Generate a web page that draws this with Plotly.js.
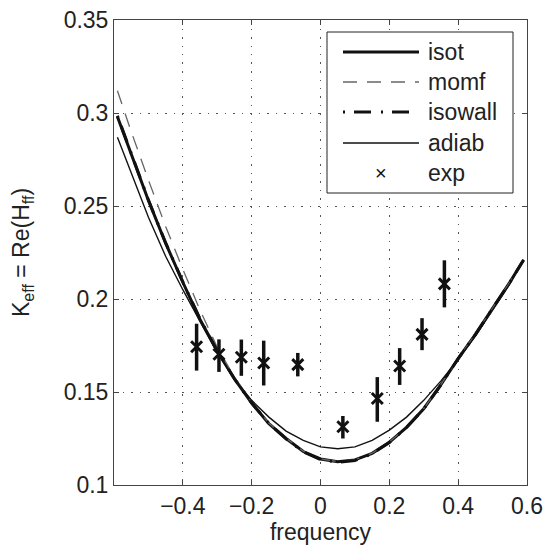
<!DOCTYPE html>
<html>
<head>
<meta charset="utf-8">
<script src="https://cdn.plot.ly/plotly-3.0.1.min.js"></script>
<style>html,body{margin:0;padding:0;background:#fff;}#chart{width:544px;height:553px;}</style>
</head>
<body>
<div id="chart"></div>
<script>
// Model curves
const freq = [-0.59,-0.55,-0.50,-0.45,-0.40,-0.35,-0.30,-0.25,-0.20,-0.15,-0.10,-0.05,0.00,0.05,0.10,0.15,0.20,0.25,0.30,0.35,0.40,0.45,0.50,0.55,0.59];
const isot    = [0.298,0.278,0.253,0.230,0.209,0.189,0.172,0.157,0.144,0.133,0.125,0.118,0.1140,0.1125,0.1135,0.117,0.123,0.131,0.141,0.154,0.168,0.181,0.195,0.209,0.221];
const momf    = [0.312,0.290,0.264,0.239,0.216,0.194,0.174,0.158,0.1445,0.1333,0.1252,0.1182,0.1140,0.1126,0.1136,0.1171,0.1231,0.1311,0.1411,0.1541,0.1680,0.1810,0.1950,0.2090,0.2212];
const isowall = [0.2985,0.2783,0.2532,0.2302,0.2092,0.1893,0.1722,0.1571,0.1441,0.1331,0.1248,0.1178,0.1137,0.1122,0.1132,0.1168,0.1228,0.1309,0.1409,0.1539,0.1679,0.1809,0.1949,0.2089,0.2210];
const adiab   = [0.287,0.268,0.244,0.223,0.205,0.188,0.171,0.157,0.1455,0.1365,0.129,0.124,0.1205,0.1195,0.1205,0.124,0.1295,0.1365,0.1455,0.156,0.1675,0.180,0.194,0.208,0.221];
// Experimental points
const expFreq = [-0.36,-0.295,-0.23,-0.165,-0.066,0.065,0.165,0.23,0.295,0.36];
const expK    = [0.1743,0.1703,0.1687,0.1656,0.1647,0.1313,0.1465,0.1640,0.1810,0.2081];
const errHi   = [0.0124,0.0080,0.0095,0.0120,0.0063,0.0058,0.0115,0.0096,0.0087,0.0127];
const errLo   = [0.0128,0.0095,0.0100,0.0121,0.0063,0.0063,0.0125,0.0102,0.0085,0.0126];
const xTicks = [-0.4,-0.2,0,0.2,0.4,0.6];
const yTicks = [0.1,0.15,0.2,0.25,0.3,0.35];
const seriesNames = ['isot','momf','isowall','adiab','exp'];

const FONT = 'Liberation Sans, Arial, Helvetica, sans-serif';
const styles = {
  isot:    {color: '#111', width: 3},
  momf:    {color: '#666', width: 1.3, dash: '14px,10px'},
  isowall: {color: '#111', width: 3, dash: '2px,9px,17px,10px'},
  adiab:   {color: '#111', width: 1.4}
};
const traces = [
  {x: freq, y: isot, name: 'isot', mode: 'lines', line: styles.isot},
  {x: freq, y: momf, name: 'momf', mode: 'lines', line: styles.momf},
  {x: freq, y: isowall, name: 'isowall', mode: 'lines', line: styles.isowall},
  {x: freq, y: adiab, name: 'adiab', mode: 'lines', line: styles.adiab},
  {x: expFreq, y: expK, name: 'exp', mode: 'markers',
   marker: {symbol: 'x-thin', size: 11, color: '#111', line: {color: '#111', width: 3}},
   error_y: {type: 'data', symmetric: false, array: errHi, arrayminus: errLo, thickness: 3.5, width: 0, color: '#111'}}
];

// plot-area geometry helpers for the hand-drawn legend box
const M = {l: 114, r: 17, t: 20, b: 68};
const W = 544, H = 553;
const PW = W - M.l - M.r, PH = H - M.t - M.b;
const px = v => (v - M.l) / PW;
const py = v => (H - M.b - v) / PH;

const shapes = [
  {type: 'rect', xref: 'paper', yref: 'paper', x0: px(327), x1: px(513), y0: py(193), y1: py(32),
   line: {color: '#222', width: 1}, fillcolor: '#fff', layer: 'above'}
];
const annotations = [];
const rowY = [52, 82, 112, 143, 173];
seriesNames.forEach((nm, i) => {
  if (styles[nm]) {
    shapes.push({type: 'line', xref: 'paper', yref: 'paper', x0: px(343), x1: px(419), y0: py(rowY[i]), y1: py(rowY[i]),
      line: Object.assign({}, styles[nm]), layer: 'above'});
  } else {
    annotations.push({xref: 'paper', yref: 'paper', x: px(381), y: py(rowY[i]), text: '\u00d7', showarrow: false,
      xanchor: 'center', yanchor: 'middle', font: {family: FONT, size: 20, color: '#111'}});
  }
  annotations.push({xref: 'paper', yref: 'paper', x: px(426), y: py(rowY[i]), text: nm, showarrow: false,
    xanchor: 'left', yanchor: 'middle', font: {family: FONT, size: 23, color: '#222'}});
});

const axisCommon = {
  showline: true, mirror: 'ticks', linecolor: '#444', linewidth: 1,
  ticks: 'inside', ticklen: 5, tickcolor: '#444', tickwidth: 1,
  showgrid: true, gridcolor: '#555', gridwidth: 1, griddash: '1.5px,7px',
  zeroline: false,
  tickfont: {family: FONT, size: 23, color: '#222'}
};
const layout = {
  width: W, height: H,
  margin: M,
  paper_bgcolor: '#fff', plot_bgcolor: '#fff',
  font: {family: FONT, color: '#222'},
  showlegend: false,
  xaxis: Object.assign({}, axisCommon, {
    range: [-0.6, 0.6], tickvals: xTicks, ticktext: xTicks.map(v => v === 0 ? '0' : (v < 0 ? '\u2212' : '') + String(Math.abs(v))),
    title: {text: 'frequency', font: {family: FONT, size: 23, color: '#222'}, standoff: 6}
  }),
  yaxis: Object.assign({}, axisCommon, {
    range: [0.1, 0.35], tickvals: yTicks, ticktext: yTicks.map(v => String(v)),
    title: {text: 'K<sub>eff</sub> = Re(H<sub>ff</sub>)', font: {family: FONT, size: 23, color: '#222'}, standoff: 27}
  }),
  shapes: shapes,
  annotations: annotations
};
Plotly.newPlot('chart', traces, layout, {displayModeBar: false, staticPlot: true});
</script>
</body>
</html>
